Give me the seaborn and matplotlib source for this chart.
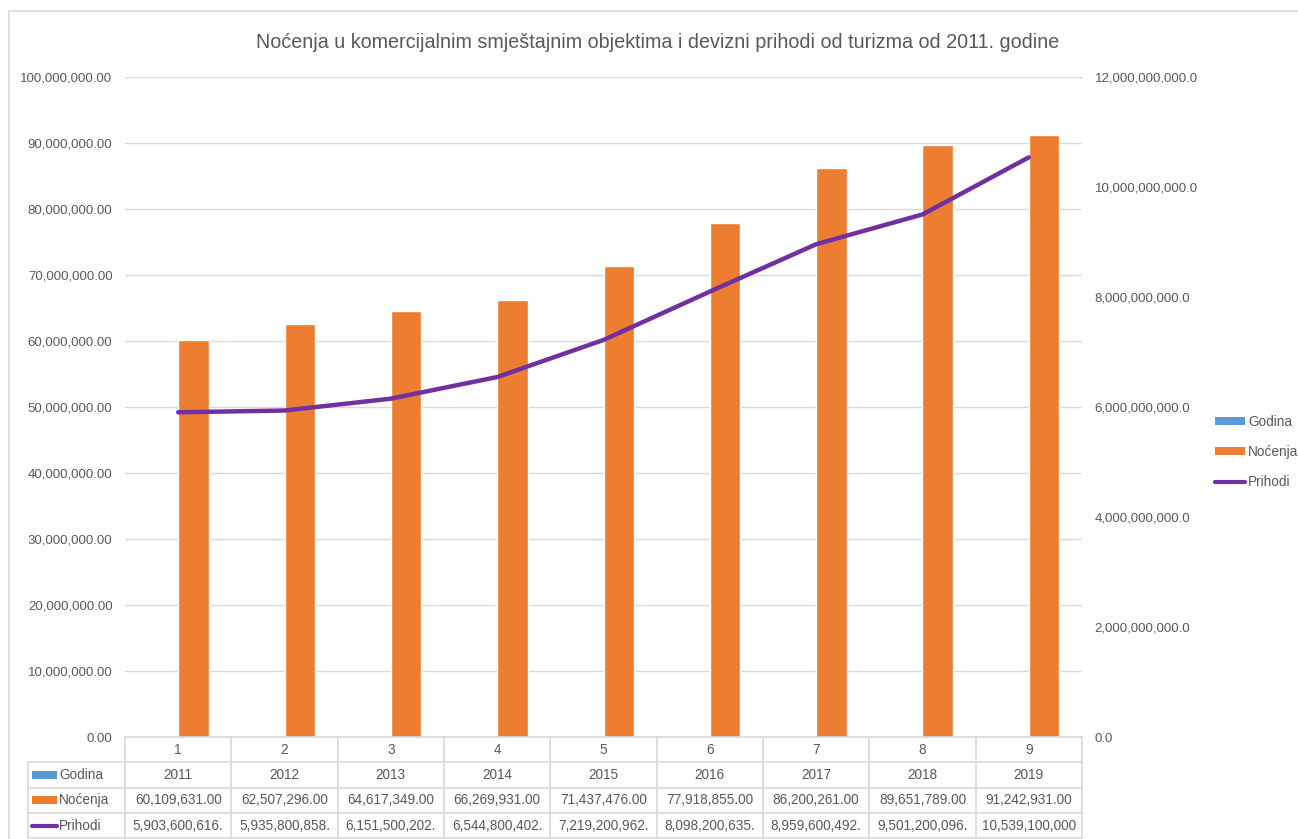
import numpy as np
import pandas as pd
import matplotlib
matplotlib.use('Agg')
import matplotlib.pyplot as plt
import seaborn as sns
from matplotlib.patches import Patch, Rectangle
from matplotlib.lines import Line2D
import matplotlib.transforms as mtransforms
from matplotlib.ticker import FuncFormatter, MultipleLocator

# ---- data ----
categories = ['1', '2', '3', '4', '5', '6', '7', '8', '9']
godina = [2011, 2012, 2013, 2014, 2015, 2016, 2017, 2018, 2019]
nocenja = [60109631, 62507296, 64617349, 66269931, 71437476,
           77918855, 86200261, 89651789, 91242931]
prihodi = [5903600616, 5935800858, 6151500202, 6544800402, 7219200962,
           8098200635, 8959600492, 9501200096, 10539100000]
series_names = ['Godina', 'Noćenja', 'Prihodi']
title = 'Noćenja u komercijalnim smještajnim objektima i devizni prihodi od turizma od 2011. godine'

colors = {'Godina': '#5B9BD5', 'Noćenja': '#ED7D31', 'Prihodi': '#7030A0'}
txt = '#595959'
grid_c = '#d9d9d9'

sns.set_theme(style='white')
plt.rcParams['font.family'] = ['Liberation Sans Narrow', 'Liberation Sans', 'DejaVu Sans']

W, H = 1298, 839
fig = plt.figure(figsize=(W / 100, H / 100), dpi=100)
fig.patch.set_facecolor('white')
ax = fig.add_axes([125 / W, 1 - 737 / H, 957 / W, 660 / H])

# frame around chart
fig.patches.append(Rectangle((9 / W, -0.02), 1.2, (839 - 11) / H + 0.02,
                             transform=fig.transFigure, fill=False,
                             edgecolor=grid_c, lw=1.2))

df = pd.DataFrame({
    'cat': categories * 2,
    'value': godina + nocenja,
    'series': [series_names[0]] * len(categories) + [series_names[1]] * len(categories),
})
sns.barplot(data=df, x='cat', y='value', hue='series', order=categories,
            hue_order=series_names[:2], palette=colors, width=0.571, gap=0,
            saturation=1, dodge=True, legend=False, ax=ax, zorder=2)
ax.set_xlim(-0.5, len(categories) - 0.5)
ax.set_ylim(0, 100_000_000)
ax.yaxis.set_major_locator(MultipleLocator(10_000_000))
ax.yaxis.set_major_formatter(FuncFormatter(lambda v, p: f'{v:,.2f}'))
ax.set_axisbelow(True)
ax.yaxis.grid(True, color=grid_c, lw=1)
ax.xaxis.grid(False)
ax.tick_params(axis='x', length=0, labelbottom=False)
ax.tick_params(axis='y', length=0, pad=9, labelsize=9.5, labelcolor=txt)
ax.set_xlabel('')
ax.set_ylabel('')
for s in ax.spines.values():
    s.set_visible(False)

ax2 = ax.twinx()
positions = list(range(len(categories)))
sns.lineplot(x=positions, y=prihodi, ax=ax2, color=colors['Prihodi'], lw=3.2,
             solid_capstyle='round')
ax2.set_ylim(0, 12_000_000_000)
ax2.yaxis.set_major_locator(MultipleLocator(2_000_000_000))
ax2.yaxis.set_major_formatter(FuncFormatter(lambda v, p: f'{v:,.1f}'))
ax2.tick_params(axis='y', length=0, pad=9, labelsize=9.5, labelcolor=txt)
ax2.set_ylabel('')
ax2.grid(False)
for s in ax2.spines.values():
    s.set_visible(False)
ax2.set_xlim(-0.5, len(categories) - 0.5)

# ---- data table ----
bt = mtransforms.blended_transform_factory(ax.transData, ax.transAxes)
ta = ax.transAxes
r = 25.3 / 660
xl = (28 - 125) / 957
n = len(categories)
lkw = dict(color=grid_c, lw=1.2, clip_on=False)
ax.add_line(Line2D([0, 1], [0, 0], transform=ta, **lkw))
for k in range(1, 5):
    ax.add_line(Line2D([xl, 1], [-k * r, -k * r], transform=ta, **lkw))
ax.add_line(Line2D([0, 0], [0, -4 * r], transform=ta, **lkw))
ax.add_line(Line2D([xl, xl], [-r, -4 * r], transform=ta, **lkw))
for i in range(n):
    ax.add_line(Line2D([i + 0.5, i + 0.5], [0, -4 * r], transform=bt, **lkw))

fs = 9.8
rows = [categories,
        [str(g) for g in godina],
        [f'{v:,.2f}' for v in nocenja],
        [f'{v:,.2f}'[:14] for v in prihodi]]
for k, row in enumerate(rows):
    for i, s in enumerate(row):
        ax.text(i, -(k + 0.5) * r, s, transform=bt, ha='center', va='center',
                fontsize=fs, color=txt, clip_on=False)

kx0 = (32 - 125) / 957
kx1 = (57 - 125) / 957
tx = (59 - 125) / 957
kh = 8 / 660
for k, name in enumerate(series_names):
    yc = -(k + 1.5) * r
    if name == 'Prihodi':
        ax.add_line(Line2D([kx0, kx1], [yc, yc], transform=ta, color=colors[name],
                           lw=3, clip_on=False, solid_capstyle='round'))
    else:
        ax.add_patch(Rectangle((kx0, yc - kh / 2), kx1 - kx0, kh, transform=ta,
                               facecolor=colors[name], edgecolor='none', clip_on=False))
    ax.text(tx, yc, name, transform=ta, ha='left', va='center', fontsize=fs,
            color=txt, clip_on=False)

# ---- legend ----
handles = [Patch(facecolor=colors['Godina'], edgecolor='none'),
           Patch(facecolor=colors['Noćenja'], edgecolor='none'),
           Line2D([], [], color=colors['Prihodi'], lw=3)]
leg = fig.legend(handles, series_names, loc='center left',
                 bbox_to_anchor=(1210 / W, 1 - 452 / H), frameon=False,
                 fontsize=fs, handlelength=2.2, handleheight=0.55,
                 handletextpad=0.2, labelspacing=1.2, borderaxespad=0)
for t in leg.get_texts():
    t.set_color(txt)

fig.text(658 / W, 1 - 42 / H, title, ha='center', va='center', fontsize=14.2,
         color=txt)

fig.savefig('out.png', dpi=100)
